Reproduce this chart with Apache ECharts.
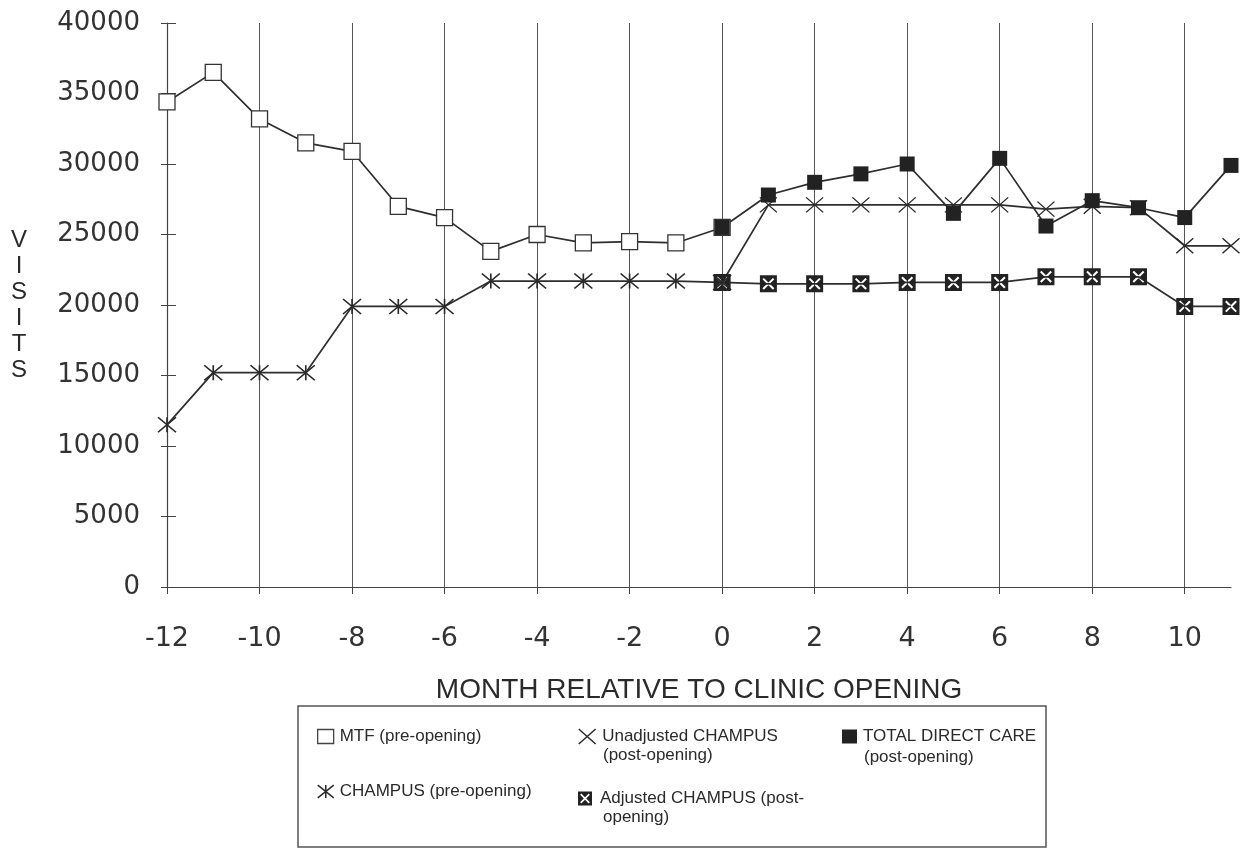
<!DOCTYPE html>
<html>
<head>
<meta charset="utf-8">
<title>Visits relative to clinic opening</title>
<script src="https://cdn.jsdelivr.net/npm/echarts@6/dist/echarts.min.js"></script>
<style>
  html, body { margin: 0; padding: 0; background: #fff; }
  #chart { width: 1254px; height: 852px; }
</style>
</head>
<body>
<div id="chart"></div>
<script>
// Months relative to the clinic opening
const preMonths = [-12, -11, -10, -9, -8, -7, -6, -5, -4, -3, -2, -1, 0];
const postMonths = [0, 1, 2, 3, 4, 5, 6, 7, 8, 9, 10, 11];

// Monthly visits
const mtfPre = [34400, 36500, 33200, 31500, 30900, 27000, 26200, 23800, 25000, 24400, 24500, 24400, 25500];
const champusPre = [11500, 15200, 15200, 15200, 19900, 19900, 19900, 21700, 21700, 21700, 21700, 21700, 21600];
const unadjustedPost = [21600, 27100, 27100, 27100, 27100, 27100, 27100, 26800, 27000, 26900, 24200, 24200];
const adjustedPost = [21600, 21500, 21500, 21500, 21600, 21600, 21600, 22000, 22000, 22000, 19900, 19900];
const totalDirectPost = [25500, 27800, 28700, 29300, 30000, 26500, 30400, 25600, 27400, 26900, 26200, 29900];

// Axis ticks
const monthTicks = [-12, -10, -8, -6, -4, -2, 0, 2, 4, 6, 8, 10];

const names = {
  mtf: 'MTF (pre-opening)',
  champus: 'CHAMPUS (pre-opening)',
  unadj: 'Unadjusted CHAMPUS',
  adj: 'Adjusted CHAMPUS (post-',
  tdc: 'TOTAL DIRECT CARE'
};

const INK = '#2a2a2a';
const LINE = '#2e2e2e';

// Marker shapes
const ASTERISK = 'path://M0,0L20,16M20,0L0,16M10,0L10,16';
const CROSS = 'path://M0,0L18,16M18,0L0,16';
// dark square with an x-shaped cut-out (inner outline wound the other way)
const BOXED_X = 'path://M0,0L20,0L20,20L0,20Z' +
  'M3,4.7L8.3,10L3,15.3L4.7,17L10,11.7L15.3,17L17,15.3L11.7,10L17,4.7L15.3,3L10,8.3L4.7,3Z';

const pairs = (xs, ys) => xs.map((x, i) => [x, ys[i]]);

const FONT = "'Liberation Sans', Arial, sans-serif";
const NUM_FONT = "'DejaVu Sans', sans-serif";

function lineSeries(name, xs, ys, symbol, size, itemStyle) {
  return {
    name: name,
    type: 'line',
    data: pairs(xs, ys),
    symbol: symbol,
    symbolSize: size,
    showSymbol: true,
    lineStyle: { color: LINE, width: 1.7 },
    itemStyle: itemStyle,
    emphasis: { disabled: true },
    animation: false
  };
}

function legendAt(name, left, top, icon, w, h, itemStyle) {
  return {
    show: true,
    left: left,
    top: top,
    padding: 0,
    itemWidth: w,
    itemHeight: h,
    selectedMode: false,
    textStyle: { fontFamily: FONT, fontSize: 17, color: INK, padding: [0, 0, 0, 1] },
    data: [{ name: name, icon: icon, itemStyle: itemStyle }]
  };
}

const chart = echarts.init(document.getElementById('chart'), null, { renderer: 'canvas' });

const option = {
  backgroundColor: '#fff',
  animation: false,
  grid: { left: 167, right: 23, top: 23, bottom: 265 },
  xAxis: {
    type: 'value',
    min: -12,
    max: 11,
    interval: 2,
    name: 'MONTH RELATIVE TO CLINIC OPENING',
    nameLocation: 'middle',
    nameGap: 103,
    nameTextStyle: {
      fontFamily: "'Liberation Sans Narrow', 'Arial Narrow', " + FONT,
      fontSize: 28, color: INK, verticalAlign: 'middle'
    },
    axisLine: { show: true, onZero: false, lineStyle: { color: '#444', width: 1.2 } },
    axisTick: { show: true, length: 7, lineStyle: { color: '#444' }, customValues: monthTicks },
    axisLabel: {
      customValues: monthTicks,
      margin: 38,
      fontFamily: NUM_FONT,
      fontSize: 27,
      color: '#333'
    },
    splitLine: { show: true, lineStyle: { color: '#555', width: 1 } }
  },
  yAxis: [
    {
      type: 'value',
      min: 0,
      max: 40000,
      interval: 5000,
      name: 'V\nI\nS\nI\nT\nS',
      nameLocation: 'middle',
      nameRotate: 0,
      nameGap: 148,
      nameTextStyle: {
        fontFamily: FONT, fontSize: 24, lineHeight: 26, color: INK,
        align: 'center', verticalAlign: 'middle'
      },
      axisLine: { show: true, onZero: false, lineStyle: { color: '#444', width: 1.2 } },
      axisTick: { show: true, length: 6, lineStyle: { color: '#444' } },
      axisLabel: {
        margin: 27, fontFamily: NUM_FONT, fontSize: 26, color: '#333',
        formatter: (v) => String(v)
      },
      splitLine: { show: false }
    },
    {
      // inner half of the crossing tick marks
      type: 'value',
      min: 0,
      max: 40000,
      interval: 5000,
      position: 'left',
      axisLine: { show: false, onZero: false },
      axisTick: { show: true, inside: true, length: 9, lineStyle: { color: '#444' } },
      axisLabel: { show: false },
      splitLine: { show: false }
    }
  ],
  legend: [
    legendAt(names.mtf, 317, 728, 'rect', 16, 14,
      { color: '#fff', borderColor: '#444', borderWidth: 1.3 }),
    legendAt(names.champus, 317, 783, ASTERISK, 16, 14,
      { color: INK, borderColor: INK, borderWidth: 1.5 }),
    legendAt(names.unadj, 578, 728, CROSS, 18, 15,
      { color: INK, borderColor: INK, borderWidth: 1.5 }),
    legendAt(names.adj, 578, 790, BOXED_X, 18, 14,
      { color: '#222', borderWidth: 0 }),
    legendAt(names.tdc, 842, 728, 'rect', 15, 14,
      { color: '#222', borderWidth: 0 })
  ],
  graphic: [
    {
      type: 'rect',
      shape: { x: 298, y: 706, width: 748, height: 141 },
      style: { fill: 'none', stroke: '#555', lineWidth: 1.5 },
      silent: true
    },
    {
      type: 'text', x: 603, y: 755, silent: true,
      style: { text: '(post-opening)', font: '17px ' + FONT, fill: INK, verticalAlign: 'middle' }
    },
    {
      type: 'text', x: 864, y: 757, silent: true,
      style: { text: '(post-opening)', font: '17px ' + FONT, fill: INK, verticalAlign: 'middle' }
    },
    {
      type: 'text', x: 603, y: 817, silent: true,
      style: { text: 'opening)', font: '17px ' + FONT, fill: INK, verticalAlign: 'middle' }
    }
  ],
  series: [
    lineSeries(names.mtf, preMonths, mtfPre, 'rect', 16,
      { color: '#fff', borderColor: '#333', borderWidth: 1.3 }),
    lineSeries(names.champus, preMonths, champusPre, ASTERISK, [18, 15],
      { color: INK, borderColor: INK, borderWidth: 1.5 }),
    lineSeries(names.unadj, postMonths, unadjustedPost, CROSS, [17, 15],
      { color: INK, borderColor: INK, borderWidth: 1.3 }),
    lineSeries(names.adj, postMonths, adjustedPost, BOXED_X, 17,
      { color: '#222', borderWidth: 0 }),
    lineSeries(names.tdc, postMonths, totalDirectPost, 'rect', 15,
      { color: '#222', borderWidth: 0 })
  ]
};

chart.setOption(option);
</script>
</body>
</html>
